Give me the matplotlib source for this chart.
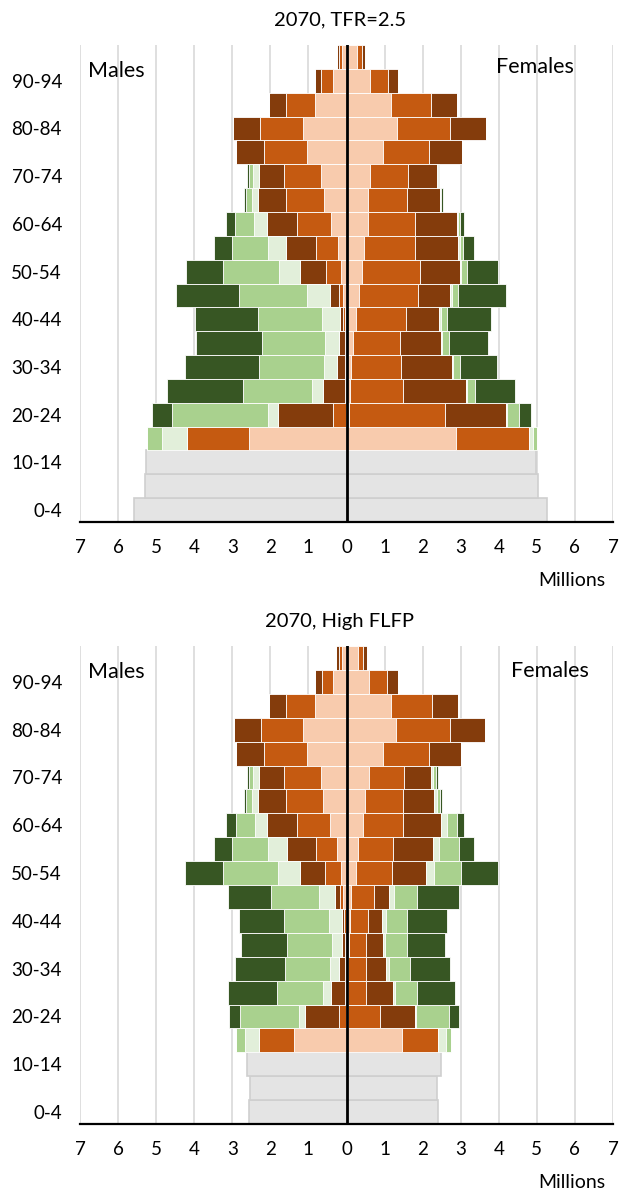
import matplotlib
matplotlib.use('Agg')
import matplotlib.pyplot as plt

# Fonts (Calibri-like look).
plt.rcParams['font.family'] = ['Lato', 'DejaVu Sans']

# Age groups, bottom to top.
ages = ['0-4', '5-9', '10-14', '15-19', '20-24', '25-29', '30-34', '35-39',
        '40-44', '45-49', '50-54', '55-59', '60-64', '65-69', '70-74',
        '75-79', '80-84', '85-89', '90-94', '95+']

# Segment colours, from the centre line outwards.
colors = ['#F8CBAD', '#C55A11', '#843C0C', '#E2EFDA', '#A9D18E', '#375623']
kid_color = '#E4E4E4'

# ---- 2070, TFR=2.5 (millions) ----
tfr_male_kids = [5.57, 5.30, 5.26] + [0] * 17
tfr_male_c1 = [0, 0, 0, 2.56, 0.02, 0.01, 0.02, 0.02, 0.04, 0.08, 0.14, 0.23, 0.42, 0.60, 0.66, 1.03, 1.14, 0.83, 0.35, 0.12]
tfr_male_c2 = [0, 0, 0, 1.63, 0.33, 0.02, 0.03, 0.02, 0.05, 0.13, 0.40, 0.58, 0.89, 1.00, 0.98, 1.15, 1.12, 0.76, 0.31, 0.09]
tfr_male_c3 = [0, 0, 0, 0.00, 1.46, 0.59, 0.21, 0.15, 0.08, 0.22, 0.67, 0.77, 0.78, 0.73, 0.65, 0.72, 0.71, 0.44, 0.18, 0.05]
tfr_male_c4 = [0, 0, 0, 0.65, 0.24, 0.29, 0.34, 0.37, 0.48, 0.60, 0.56, 0.47, 0.34, 0.16, 0.16, 0, 0, 0, 0, 0]
tfr_male_c5 = [0, 0, 0, 0.41, 2.54, 1.82, 1.71, 1.65, 1.67, 1.80, 1.47, 0.96, 0.49, 0.15, 0.12, 0, 0, 0, 0, 0]
tfr_male_c6 = [0, 0, 0, 0.00, 0.51, 1.98, 1.92, 1.73, 1.65, 1.64, 0.97, 0.46, 0.25, 0.06, 0.035, 0, 0, 0, 0, 0]

tfr_female_kids = [5.27, 5.02, 4.99] + [0] * 17
tfr_female_c1 = [0, 0, 0, 2.88, 0.07, 0.10, 0.12, 0.16, 0.24, 0.32, 0.42, 0.45, 0.56, 0.56, 0.63, 0.95, 1.33, 1.16, 0.61, 0.28]
tfr_female_c2 = [0, 0, 0, 1.91, 2.52, 1.39, 1.32, 1.25, 1.31, 1.56, 1.52, 1.34, 1.25, 1.03, 0.99, 1.23, 1.40, 1.07, 0.48, 0.13]
tfr_female_c3 = [0, 0, 0, 0.00, 1.59, 1.65, 1.33, 1.07, 0.89, 0.85, 1.03, 1.15, 1.08, 0.87, 0.76, 0.85, 0.94, 0.66, 0.26, 0.08]
tfr_female_c4 = [0, 0, 0, 0.12, 0.03, 0.03, 0.03, 0.02, 0.03, 0.03, 0.03, 0.03, 0.03, 0.01, 0.01, 0, 0, 0, 0, 0]
tfr_female_c5 = [0, 0, 0, 0.09, 0.32, 0.21, 0.17, 0.18, 0.16, 0.17, 0.16, 0.09, 0.06, 0.01, 0.02, 0, 0, 0, 0, 0]
tfr_female_c6 = [0, 0, 0, 0.00, 0.31, 1.04, 0.99, 1.03, 1.16, 1.26, 0.83, 0.28, 0.11, 0.05, 0.01, 0, 0, 0, 0, 0]

# ---- 2070, High FLFP (millions) ----
flfp_male_kids = [2.55, 2.53, 2.62] + [0] * 17
flfp_male_c1 = [0, 0, 0, 1.39, 0.02, 0.01, 0.01, 0.01, 0.02, 0.08, 0.14, 0.24, 0.43, 0.61, 0.67, 1.04, 1.14, 0.83, 0.35, 0.13]
flfp_male_c2 = [0, 0, 0, 0.90, 0.19, 0.02, 0.02, 0.02, 0.04, 0.10, 0.43, 0.57, 0.88, 0.99, 0.96, 1.12, 1.11, 0.75, 0.29, 0.08]
flfp_male_c3 = [0, 0, 0, 0.00, 0.89, 0.37, 0.16, 0.08, 0.06, 0.13, 0.64, 0.76, 0.77, 0.73, 0.67, 0.75, 0.70, 0.46, 0.18, 0.06]
flfp_male_c4 = [0, 0, 0, 0.38, 0.15, 0.21, 0.24, 0.27, 0.33, 0.41, 0.58, 0.48, 0.33, 0.15, 0.15, 0, 0, 0, 0, 0]
flfp_male_c5 = [0, 0, 0, 0.22, 1.55, 1.21, 1.19, 1.17, 1.19, 1.25, 1.45, 0.96, 0.50, 0.16, 0.12, 0, 0, 0, 0, 0]
flfp_male_c6 = [0, 0, 0, 0.00, 0.29, 1.30, 1.31, 1.21, 1.18, 1.14, 1.00, 0.47, 0.25, 0.06, 0.04, 0, 0, 0, 0, 0]

flfp_female_kids = [2.41, 2.38, 2.48] + [0] * 17
flfp_female_c1 = [0, 0, 0, 1.45, 0.03, 0.04, 0.04, 0.06, 0.10, 0.12, 0.25, 0.29, 0.43, 0.49, 0.58, 0.95, 1.31, 1.18, 0.59, 0.29]
flfp_female_c2 = [0, 0, 0, 0.96, 0.86, 0.48, 0.47, 0.46, 0.47, 0.61, 0.95, 0.94, 1.06, 1.00, 0.93, 1.21, 1.40, 1.07, 0.48, 0.15]
flfp_female_c3 = [0, 0, 0, 0.00, 0.90, 0.70, 0.54, 0.43, 0.36, 0.38, 0.89, 1.03, 0.98, 0.82, 0.71, 0.85, 0.92, 0.68, 0.29, 0.09]
flfp_female_c4 = [0, 0, 0, 0.20, 0.03, 0.06, 0.06, 0.07, 0.11, 0.14, 0.21, 0.18, 0.16, 0.08, 0.05, 0, 0, 0, 0, 0]
flfp_female_c5 = [0, 0, 0, 0.13, 0.88, 0.58, 0.56, 0.56, 0.54, 0.61, 0.71, 0.52, 0.27, 0.07, 0.09, 0, 0, 0, 0, 0]
flfp_female_c6 = [0, 0, 0, 0.00, 0.25, 1.00, 1.05, 1.02, 1.05, 1.09, 0.97, 0.40, 0.18, 0.04, 0.035, 0, 0, 0, 0, 0]


def draw_side(ax, kids, parts, sign):
    y = range(len(ages))
    # Children under 15, grey.
    ax.barh(y, [sign * v for v in kids], height=1.0, color=kid_color,
            edgecolor='#CFCFCF', linewidth=1.2, zorder=2)
    left = [0.0] * len(ages)
    for vals, col in zip(parts, colors):
        ax.barh(y, [sign * v for v in vals], left=[sign * l for l in left],
                height=1.0, color=col, edgecolor='white', linewidth=0.6, zorder=2)
        left = [l + v for l, v in zip(left, vals)]


def pyramid(ax, title, male_kids, male_parts, female_kids, female_parts,
            males_xy, females_xy, title_y, millions_y):
    draw_side(ax, male_kids, male_parts, -1)
    draw_side(ax, female_kids, female_parts, 1)

    ax.set_xlim(-7, 7)
    ax.set_ylim(-0.5, len(ages) - 0.5)
    ax.set_xticks(range(-7, 8))
    ax.set_xticklabels([str(abs(t)) for t in range(-7, 8)], fontsize=13.5)
    ax.set_yticks(range(0, len(ages), 2))
    ax.set_yticklabels(ages[::2], fontsize=13.5)
    ax.tick_params(axis='both', length=0)
    ax.tick_params(axis='x', pad=12)
    ax.tick_params(axis='y', pad=13)

    # Vertical gridlines behind the bars.
    ax.set_axisbelow(True)
    ax.grid(axis='x', color='#D9D9D9', linewidth=1.2)
    ax.grid(axis='y', visible=False)

    for s in ['top', 'right', 'left']:
        ax.spines[s].set_visible(False)
    ax.spines['bottom'].set_color('black')
    ax.spines['bottom'].set_linewidth(1.6)
    ax.axvline(0, color='black', linewidth=2.0, zorder=5)

    ax.text(males_xy[0], males_xy[1], 'Males', transform=ax.transAxes,
            fontsize=15.5, ha='center', va='center')
    ax.text(females_xy[0], females_xy[1], 'Females', transform=ax.transAxes,
            fontsize=15.5, ha='center', va='center')

    fig.text(340 / 619, title_y, title, fontsize=14.5, ha='center', va='center')
    fig.text(572 / 619, millions_y, 'Millions', fontsize=14, ha='center', va='center')


fig = plt.figure(figsize=(6.19, 11.98), dpi=100)

ax1 = fig.add_axes([80 / 619, 1 - 522 / 1198, 533 / 619, 477 / 1198])
pyramid(ax1, '2070, TFR=2.5', tfr_male_kids,
        [tfr_male_c1, tfr_male_c2, tfr_male_c3, tfr_male_c4, tfr_male_c5, tfr_male_c6],
        tfr_female_kids,
        [tfr_female_c1, tfr_female_c2, tfr_female_c3, tfr_female_c4, tfr_female_c5, tfr_female_c6],
        (0.069, 0.945), (0.854, 0.954), 1 - 20 / 1198, 1 - 580 / 1198)

ax2 = fig.add_axes([80 / 619, 1 - 1124 / 1198, 533 / 619, 478 / 1198])
pyramid(ax2, '2070, High FLFP', flfp_male_kids,
        [flfp_male_c1, flfp_male_c2, flfp_male_c3, flfp_male_c4, flfp_male_c5, flfp_male_c6],
        flfp_female_kids,
        [flfp_female_c1, flfp_female_c2, flfp_female_c3, flfp_female_c4, flfp_female_c5, flfp_female_c6],
        (0.069, 0.946), (0.882, 0.948), 1 - 621 / 1198, 1 - 1182 / 1198)

fig.savefig('out.png', dpi=100)
